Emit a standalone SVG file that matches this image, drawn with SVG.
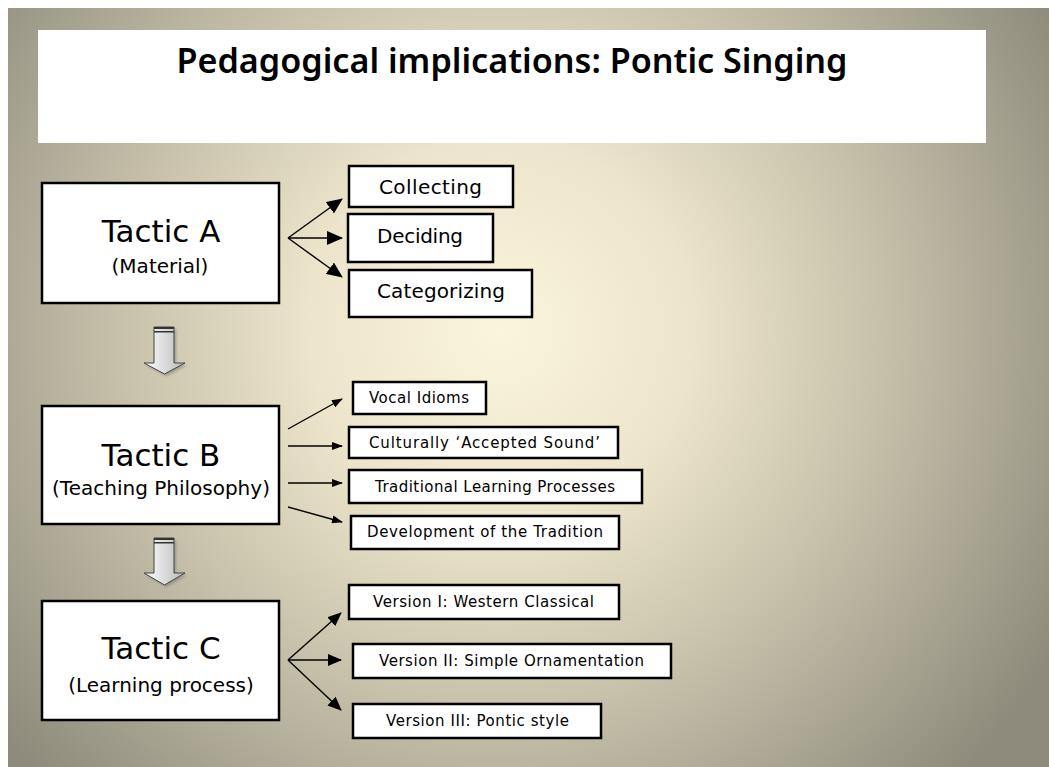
<svg xmlns="http://www.w3.org/2000/svg" width="1049" height="767" viewBox="0 0 1049 767">
<defs>
<radialGradient id="bg" gradientUnits="userSpaceOnUse" cx="500" cy="330" r="640">
<stop offset="0" stop-color="#fbf5dd"/>
<stop offset="0.3" stop-color="#ece5cb"/>
<stop offset="0.6" stop-color="#c6c0aa"/>
<stop offset="1" stop-color="#8e8b7c"/>
</radialGradient>
<linearGradient id="arr" x1="0" y1="0" x2="1" y2="0">
<stop offset="0" stop-color="#ffffff"/>
<stop offset="1" stop-color="#b8b8b8"/>
</linearGradient>
<marker id="hA" markerUnits="userSpaceOnUse" markerWidth="16" markerHeight="14" refX="15" refY="7" orient="auto">
<path d="M0,0 L16,7 L0,14 Z" fill="#000"/>
</marker>
<marker id="hB" markerUnits="userSpaceOnUse" markerWidth="11" markerHeight="8" refX="10" refY="4" orient="auto">
<path d="M0,0 L11,4 L0,8 Z" fill="#000"/>
</marker>
<marker id="hC" markerUnits="userSpaceOnUse" markerWidth="14" markerHeight="12" refX="13" refY="6" orient="auto">
<path d="M0,0 L14,6 L0,12 Z" fill="#000"/>
</marker>
<filter id="sh" x="-20%" y="-20%" width="140%" height="140%">
<feGaussianBlur stdDeviation="1.5"/>
</filter>
</defs>
<style>
.box{fill:#fff;stroke:#000;stroke-width:2.5}
.big{font-family:"DejaVu Sans",sans-serif;font-size:31px;fill:#000;text-anchor:middle}
.sub{font-family:"DejaVu Sans",sans-serif;font-size:20px;fill:#000;text-anchor:middle}
.mid{font-family:"DejaVu Sans",sans-serif;font-size:20px;fill:#000;text-anchor:middle}
.sm{font-family:"DejaVu Sans",sans-serif;font-size:15px;fill:#000;text-anchor:middle}
.ln{stroke:#000;stroke-width:1.4;fill:none}
.dn{fill:url(#arr);stroke:#444;stroke-width:1}
</style>
<rect x="0" y="0" width="1049" height="767" fill="#fff"/>
<rect x="8" y="8" width="1041" height="759" fill="url(#bg)"/>
<g id="title">
<rect x="38" y="30" width="948" height="113" fill="#fff"/>
<text x="512" y="73" font-family="'Noto Sans','Open Sans',sans-serif" font-weight="600" font-size="35" text-anchor="middle" textLength="671" lengthAdjust="spacingAndGlyphs">Pedagogical implications: Pontic Singing</text>
</g>
<g id="tacticA">
<rect class="box" x="42" y="183" width="237" height="120"/>
<text class="big" x="161" y="242">Tactic A</text>
<text class="sub" x="160" y="273">(Material)</text>
</g>
<g id="collecting"><rect class="box" x="349" y="166" width="164" height="41"/><text class="mid" x="430.5" y="194" textLength="103">Collecting</text></g>
<g id="deciding"><rect class="box" x="348" y="214" width="145" height="48"/><text class="mid" x="420" y="243" textLength="86">Deciding</text></g>
<g id="categorizing"><rect class="box" x="349" y="270" width="183" height="47"/><text class="mid" x="441" y="298" textLength="128">Categorizing</text></g>
<g id="tacticB">
<rect class="box" x="42" y="406" width="237" height="118"/>
<text class="big" x="161" y="466">Tactic B</text>
<text class="sub" x="161" y="495">(Teaching Philosophy)</text>
</g>
<g id="vocal"><rect class="box" x="353" y="382" width="133" height="32"/><text class="sm" x="419" y="403" textLength="100">Vocal Idioms</text></g>
<g id="culturally"><rect class="box" x="349" y="427" width="269" height="31"/><text class="sm" x="484.5" y="448" textLength="231">Culturally ‘Accepted Sound’</text></g>
<g id="traditional"><rect class="box" x="349" y="470" width="293" height="33"/><text class="sm" x="495" y="492" textLength="240">Traditional Learning Processes</text></g>
<g id="development"><rect class="box" x="351" y="516" width="268" height="33"/><text class="sm" x="485" y="537" textLength="236">Development of the Tradition</text></g>
<g id="tacticC">
<rect class="box" x="42" y="601" width="237" height="119"/>
<text class="big" x="161" y="659">Tactic C</text>
<text class="sub" x="161" y="692">(Learning process)</text>
</g>
<g id="version1"><rect class="box" x="349" y="585" width="270" height="34"/><text class="sm" x="483.5" y="607" textLength="221">Version I: Western Classical</text></g>
<g id="version2"><rect class="box" x="353" y="644" width="318" height="34"/><text class="sm" x="511.5" y="666" textLength="265">Version II: Simple Ornamentation</text></g>
<g id="version3"><rect class="box" x="353" y="704" width="248" height="34"/><text class="sm" x="477.5" y="726" textLength="183">Version III: Pontic style</text></g>
<g id="connectors">
<line class="ln" x1="288" y1="238" x2="342" y2="199" marker-end="url(#hA)"/>
<line class="ln" x1="288" y1="238" x2="342" y2="238" marker-end="url(#hA)"/>
<line class="ln" x1="288" y1="238" x2="342" y2="277" marker-end="url(#hA)"/>
<line class="ln" x1="288" y1="429" x2="342" y2="399" marker-end="url(#hB)"/>
<line class="ln" x1="288" y1="446" x2="342" y2="446" marker-end="url(#hB)"/>
<line class="ln" x1="288" y1="483" x2="342" y2="483" marker-end="url(#hB)"/>
<line class="ln" x1="288" y1="507" x2="342" y2="522" marker-end="url(#hB)"/>
<line class="ln" x1="288" y1="660" x2="341" y2="613" marker-end="url(#hC)"/>
<line class="ln" x1="288" y1="660" x2="341" y2="660" marker-end="url(#hC)"/>
<line class="ln" x1="288" y1="660" x2="341" y2="710" marker-end="url(#hC)"/>
<g id="down1">
<polygon points="156,329 176,329 176,365 187,365 166.5,376 146,365 156,365" fill="#777" opacity="0.6" filter="url(#sh)"/>
<polygon class="dn" points="154,327 174,327 174,363 185,363 164.5,374 144,363 154,363"/>
<rect x="154" y="327" width="20" height="2" fill="#333"/>
<rect x="154" y="331" width="20" height="1.5" fill="#333"/>
</g>
<g id="down2">
<polygon points="156,540 176,540 176,575 187,575 166.5,587 146,575 156,575" fill="#777" opacity="0.6" filter="url(#sh)"/>
<polygon class="dn" points="154,538 174,538 174,573 185,573 164.5,585 144,573 154,573"/>
<rect x="154" y="538" width="20" height="2" fill="#333"/>
<rect x="154" y="542" width="20" height="1.5" fill="#333"/>
</g>
</g>
</svg>
